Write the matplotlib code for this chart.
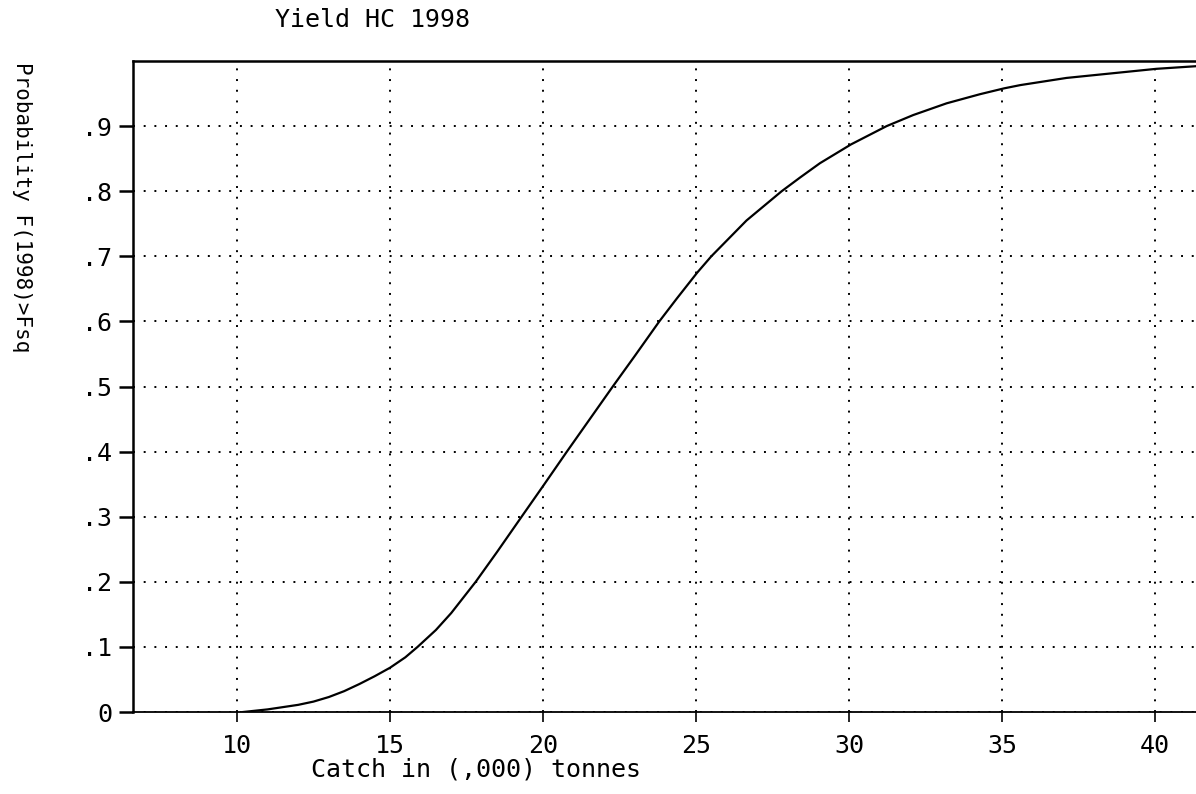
import matplotlib.pyplot as plt
import numpy as np

# values
catch = [10.2, 11, 12, 12.5, 13, 13.5, 14, 14.5, 15, 15.5, 15.9, 16.5, 17,
         17.8, 18.5, 19.3, 20, 20.78, 21.5, 22.28, 23, 23.8, 24.37, 25.04,
         25.5, 26.65, 27.8, 28.4, 29.05, 30.07, 31.23, 32.1, 33.19, 34.28,
         35.07, 35.6, 37.11, 40.05, 41.34]
prob = [0.0, 0.004, 0.011, 0.016, 0.023, 0.032, 0.043, 0.055, 0.068, 0.084,
        0.1, 0.126, 0.152, 0.2, 0.246, 0.3, 0.347, 0.4, 0.448, 0.5, 0.547,
        0.6, 0.635, 0.675, 0.7, 0.755, 0.8, 0.821, 0.843, 0.872, 0.9, 0.917,
        0.935, 0.949, 0.958, 0.963, 0.974, 0.988, 0.992]

x_ticks = [10, 15, 20, 25, 30, 35, 40]
y_ticks = [0, 0.1, 0.2, 0.3, 0.4, 0.5, 0.6, 0.7, 0.8, 0.9]
y_ticklabels = ['0', '.1', '.2', '.3', '.4', '.5', '.6', '.7', '.8', '.9']

plt.rcParams['font.family'] = ['DejaVu Sans Mono']

fig = plt.figure(figsize=(11.96, 7.94), dpi=100)
ax = fig.add_axes([133 / 1196, 1 - 712 / 794, 1 - 133 / 1196, (712 - 61) / 794])

ax.plot(catch, prob, color='black', lw=1.6)

ax.set_xlim(6.6, 41.34)
ax.set_ylim(0, 1.0)
ax.set_xticks(x_ticks)
ax.set_xticklabels([str(t) for t in x_ticks], fontsize=18)
ax.set_yticks(y_ticks)
ax.set_yticklabels(y_ticklabels, fontsize=18)

ax.grid(True, color='black', linestyle=(0, (1, 4.5)), linewidth=1.4)

ax.tick_params(axis='x', direction='out', length=7, width=1.2, pad=9)
ax.tick_params(axis='y', direction='out', length=10, width=1.8, pad=5)

ax.spines['right'].set_visible(False)
ax.spines['left'].set_linewidth(1.8)
ax.spines['top'].set_linewidth(1.8)
ax.spines['bottom'].set_linewidth(1.3)

fig.text(275 / 1196, 1 - 20 / 794, 'Yield HC 1998', fontsize=18,
         ha='left', va='center')
fig.text(476 / 1196, 1 - 770 / 794, 'Catch in (,000) tonnes', fontsize=18,
         ha='center', va='center')
fig.text(22 / 1196, 1 - 62 / 794, 'Probability F(1998)>Fsq', fontsize=15,
         rotation=270, ha='center', va='top')

plt.savefig('out.png', dpi=100)
plt.close()
